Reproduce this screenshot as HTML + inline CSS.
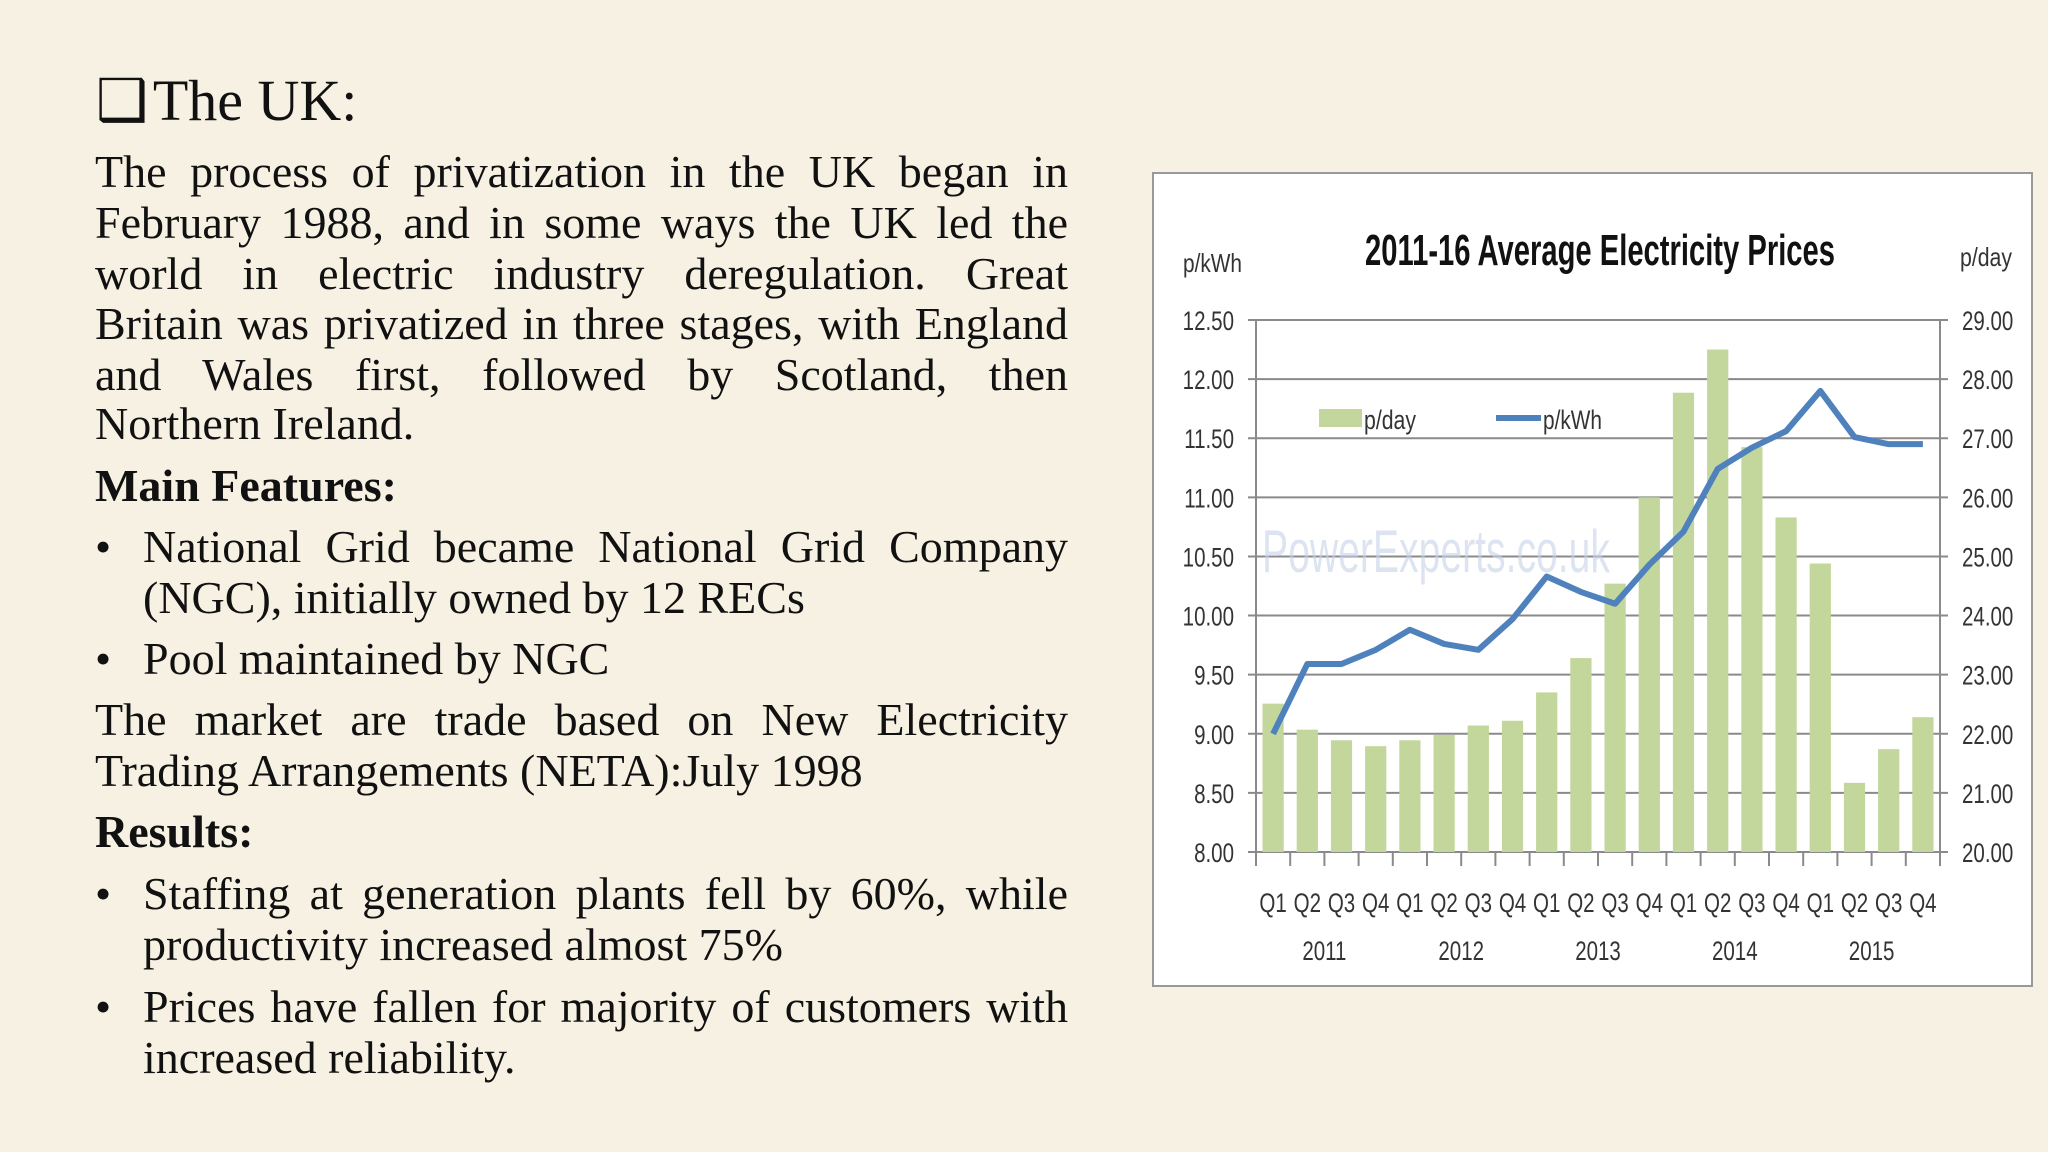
<!DOCTYPE html>
<html><head><meta charset="utf-8"><style>
html,body{margin:0;padding:0}
body{width:2048px;height:1152px;background:#f6f1e2;position:relative;overflow:hidden;font-family:"Liberation Serif",serif;color:#111}
.l{position:absolute;left:95px;width:973px;font-size:46px;line-height:51px;white-space:nowrap}
.j{text-align:justify;text-align-last:justify;white-space:normal}
.b{font-weight:bold}
.bul{position:absolute;left:95px;font-size:46px;line-height:51px}
.bt{left:143px;width:925px}
</style></head><body>
<div style="position:absolute;left:96px;top:68px;font-size:58px;line-height:66px">❑&#8202;The UK:</div>
<div>
<div class="l j" style="top:146px">The process of privatization in the UK began in</div>
<div class="l j" style="top:197px">February 1988, and in some ways the UK led the</div>
<div class="l j" style="top:248px">world in electric industry deregulation. Great</div>
<div class="l j" style="top:298px">Britain was privatized in three stages, with England</div>
<div class="l j" style="top:349px">and Wales first, followed by Scotland, then</div>
<div class="l" style="top:398px">Northern Ireland.</div>
</div>
<div class="l b" style="top:460px">Main Features:</div>
<div>
<div class="bul" style="top:521px">•</div>
<div class="l j bt" style="top:521px">National Grid became National Grid Company</div>
<div class="l bt" style="top:572px">(NGC), initially owned by 12 RECs</div>
</div>
<div>
<div class="bul" style="top:633px">•</div>
<div class="l bt" style="top:633px">Pool maintained by NGC</div>
</div>
<div>
<div class="l j" style="top:694px">The market are trade based on New Electricity</div>
<div class="l" style="top:745px">Trading Arrangements (NETA):July 1998</div>
</div>
<div class="l b" style="top:806px">Results:</div>
<div>
<div class="bul" style="top:868px">•</div>
<div class="l j bt" style="top:868px">Staffing at generation plants fell by 60%, while</div>
<div class="l bt" style="top:919px">productivity increased almost 75%</div>
</div>
<div>
<div class="bul" style="top:981px">•</div>
<div class="l j bt" style="top:981px">Prices have fallen for majority of customers with</div>
<div class="l bt" style="top:1032px">increased reliability.</div>
</div>

<svg id="chart" width="2048" height="1152" style="position:absolute;left:0;top:0" font-family="'Liberation Sans',sans-serif">
<rect x="1153" y="173" width="879" height="813" fill="#fff" stroke="#999" stroke-width="2"/>
<text x="1365" y="265" font-size="44" font-weight="bold" textLength="470" lengthAdjust="spacingAndGlyphs" fill="#111">2011-16 Average Electricity Prices</text>
<text x="1183" y="272" font-size="26" textLength="59" lengthAdjust="spacingAndGlyphs" fill="#333">p/kWh</text>
<text x="1960" y="266" font-size="26" textLength="52" lengthAdjust="spacingAndGlyphs" fill="#333">p/day</text>
<g id="grid"></g><g id="bars"></g><g id="axes"></g><g id="line"></g>
<text x="1262" y="572" font-size="60" textLength="348" lengthAdjust="spacingAndGlyphs" fill="#c8d3e8" opacity="0.6">PowerExperts.co.uk</text>
<g>
<rect x="1319" y="409" width="43" height="18" fill="#c3d69b"/>
<text x="1364" y="429" font-size="27" textLength="52" lengthAdjust="spacingAndGlyphs" fill="#333">p/day</text>
<line x1="1496" y1="418" x2="1541" y2="418" stroke="#4f81bd" stroke-width="6"/>
<text x="1543" y="429" font-size="27" textLength="59" lengthAdjust="spacingAndGlyphs" fill="#333">p/kWh</text>
</g>
</svg>
<script>
const quarters=["Q1","Q2","Q3","Q4","Q1","Q2","Q3","Q4","Q1","Q2","Q3","Q4","Q1","Q2","Q3","Q4","Q1","Q2","Q3","Q4"];
const years=["2011","2012","2013","2014","2015"];
const pDay=[22.51,22.07,21.89,21.79,21.89,21.98,22.14,22.22,22.70,23.28,24.54,26.0,27.77,28.50,26.85,25.66,24.88,21.17,21.74,22.28];
const pKwh=[9.00,9.59,9.59,9.71,9.88,9.76,9.71,9.97,10.33,10.20,10.10,10.43,10.71,11.24,11.42,11.56,11.90,11.51,11.45,11.45];
const leftTicks=["8.00","8.50","9.00","9.50","10.00","10.50","11.00","11.50","12.00","12.50"];
const rightTicks=["20.00","21.00","22.00","23.00","24.00","25.00","26.00","27.00","28.00","29.00"];
const NS="http://www.w3.org/2000/svg";
const X0=1256,X1=1940,Y0=852,Y1=320;
const cw=(X1-X0)/quarters.length;
const yL=v=>Y0-(v-8)/4.5*(Y0-Y1);
const yR=v=>Y0-(v-20)/9*(Y0-Y1);
const xc=i=>X0+(i+0.5)*cw;
const SX=0.76;
function mk(t,a,p){const e=document.createElementNS(NS,t);for(const k in a)e.setAttribute(k,a[k]);p.appendChild(e);return e;}
function txt(s,x,y,anchor,p){const e=mk('text',{x:0,y:0,'font-size':27,'text-anchor':anchor,fill:'#333',transform:'translate('+x+','+y+') scale('+SX+',1)'},p);e.textContent=s;return e;}
const grid=document.getElementById('grid'),bars=document.getElementById('bars'),axes=document.getElementById('axes'),lineG=document.getElementById('line');
leftTicks.forEach(t=>{const y=yL(parseFloat(t));
 const g=mk('line',{x1:X0-8,x2:X1+8,y1:y,y2:y,stroke:'#8a8a8a','stroke-width':2},grid);
 
 const a=txt(t,1234,y+10,'end',axes);
 });
rightTicks.forEach(t=>{const y=yR(parseFloat(t));
 const a=txt(t,1962,y+10,'start',axes);
 });
pDay.forEach((v,i)=>{const w=cw*0.62;
 const r=mk('rect',{x:xc(i)-w/2,y:yR(v),width:w,height:Y0-yR(v),fill:'#c3d69b'},bars);
 });
mk('line',{x1:X0,x2:X0,y1:Y1,y2:Y0,stroke:'#8a8a8a','stroke-width':2},axes);
mk('line',{x1:X1,x2:X1,y1:Y1,y2:Y0,stroke:'#8a8a8a','stroke-width':2},axes);
for(let i=0;i<=quarters.length;i++){const x=X0+i*cw;
 const tk=mk('line',{x1:x,x2:x,y1:Y0,y2:Y0+14,stroke:'#8a8a8a','stroke-width':2},axes);
 }
quarters.forEach((q,i)=>{const t=txt(q,xc(i),912,'middle',axes);
 });
years.forEach((yv,i)=>{const t=txt(yv,X0+(i*4+2)*cw,960,'middle',axes);
 });
const pts=pKwh.map((v,i)=>xc(i)+','+yL(v)).join(' ');
const pl=mk('polyline',{points:pts,fill:'none',stroke:'#4f81bd','stroke-width':6,'stroke-linejoin':'round'},lineG);

</script>
</body></html>
